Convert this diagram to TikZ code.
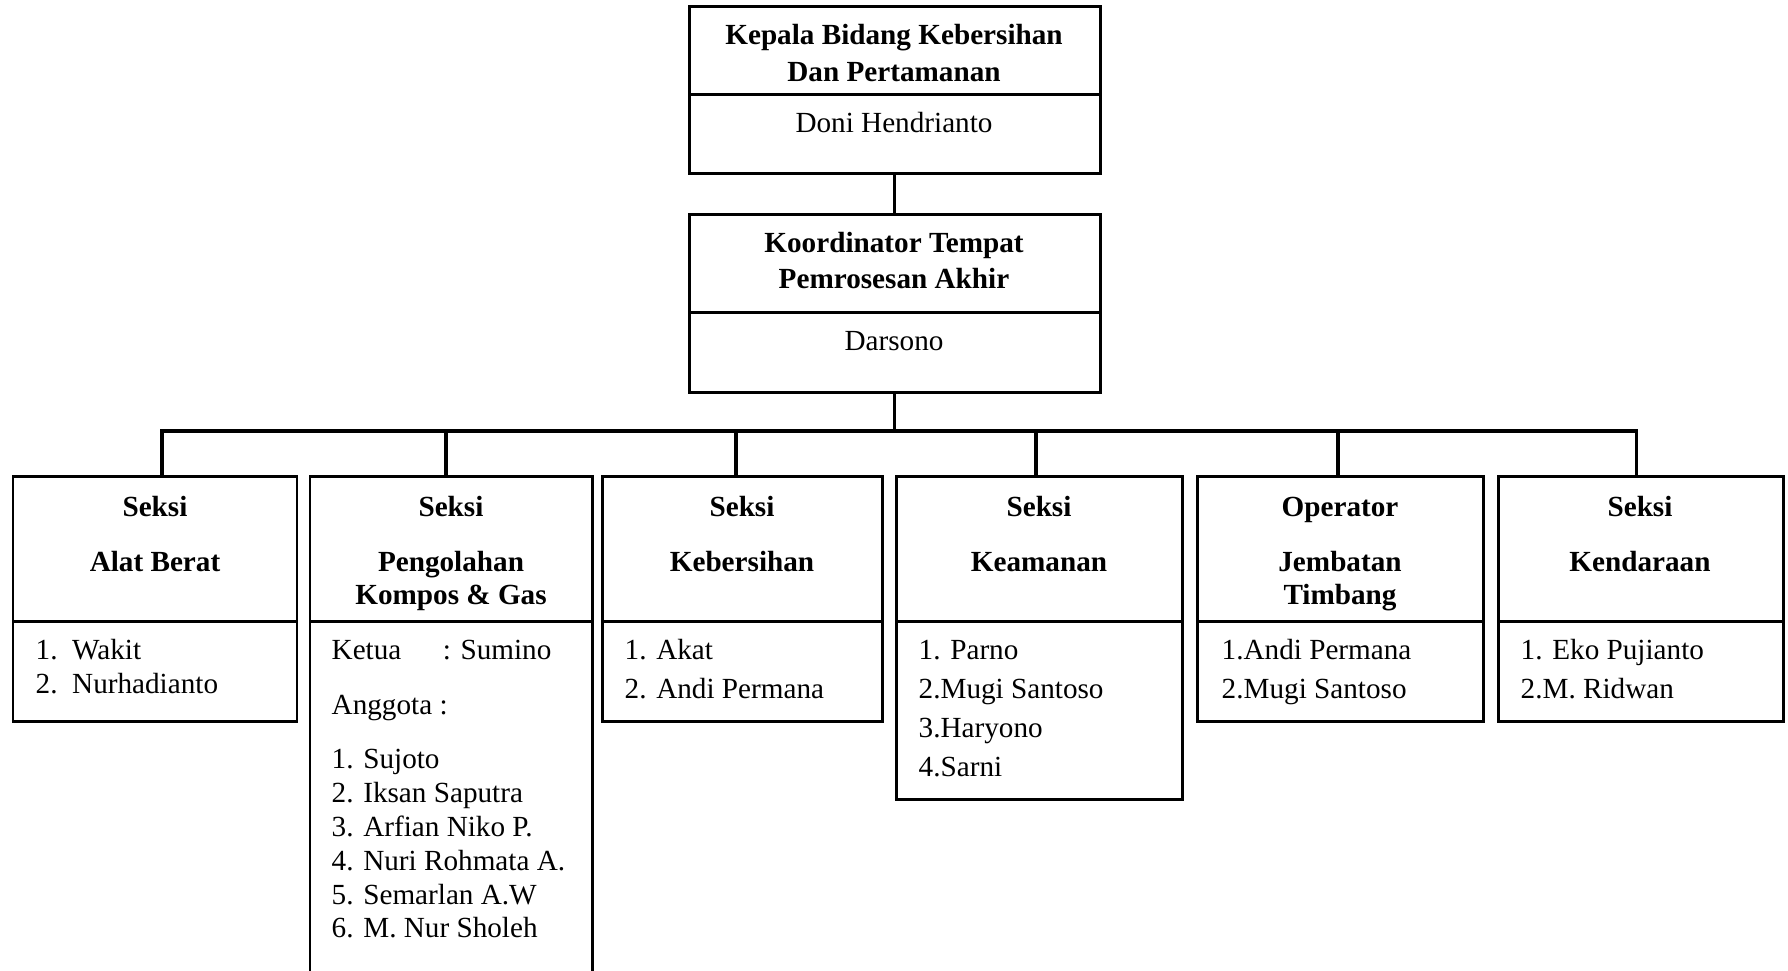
\documentclass[tikz,border=0pt]{standalone}
\usepackage{fontspec}
\setmainfont{Liberation Serif}
\usetikzlibrary{positioning,fit}

\tikzset{
  box/.style={draw, line width=0.85pt, inner sep=0pt},
  link/.style={line width=0.9pt},
  head/.style={anchor=base, inner sep=0pt, font=\fontsize{8.3}{10}\selectfont\bfseries},
  person/.style={anchor=base, inner sep=0pt, font=\fontsize{8.3}{10}\selectfont},
  item/.style={anchor=base west, inner sep=0pt, font=\fontsize{8.3}{10}\selectfont}
}

\begin{document}
\begin{tikzpicture}[x=0.01cm, y=-0.01cm]
        \clip (0,0) rectangle (1788,971);

        % Kepala bidang
        \node[box, fit={(689,7) (1100,174)}] (kepala) {};
        \draw[box] (689,95) -- (1100,95);
        \node[head] (kepala-t1) at (894,45) {Kepala Bidang Kebersihan};
        \node[head] (kepala-t2) at (894,82) {Dan Pertamanan};
        \node[person] (kepala-n) at (894,133) {Doni Hendrianto};

        % Koordinator TPA
        \node[box, fit={(689,215) (1100,393)}] (koord) {};
        \draw[box] (689,313) -- (1100,313);
        \node[head] (koord-t1) at (894,253) {Koordinator Tempat};
        \node[head] (koord-t2) at (894,289) {Pemrosesan Akhir};
        \node[person] (koord-n) at (894,351) {Darsono};

        % Seksi boxes
        \foreach \id/\xa/\xb/\yb in {alat/13/297/722, kompos/310/592/990, bersih/602/882/722,
                                     aman/896/1182/800, timbang/1197/1483/722, kendara/1498/1783/722} {
            \node[box, fit={(\xa,477) (\xb,\yb)}] (\id) {};
            \draw[box] (\xa,622) -- (\xb,622);
        }

        % Connectors
        \coordinate (bus) at (894,431);
        \draw[link] (kepala.south) -- (koord.north);
        \draw[link] (koord.south) -- (koord.south |- bus);
        \draw[link] ([xshift=0.07cm]alat.north) |- (bus) -| ([xshift=-0.04cm]kendara.north);
        \foreach \id/\dx in {kompos/-0.05, bersih/-0.06, aman/-0.03, timbang/-0.02}
            \draw[link] ([xshift=\dx cm]\id.north) -- ([xshift=\dx cm]\id.north |- bus);

        % Headers
        \node[head] (alat-t1) at (155,517) {Seksi};
        \node[head] (alat-t2) at (155,572) {Alat Berat};
        \node[head] (kompos-t1) at (451,517) {Seksi};
        \node[head] (kompos-t2) at (451,572) {Pengolahan};
        \node[head] (kompos-t3) at (451,605) {Kompos \& Gas};
        \node[head] (bersih-t1) at (742,517) {Seksi};
        \node[head] (bersih-t2) at (742,572) {Kebersihan};
        \node[head] (aman-t1) at (1039,517) {Seksi};
        \node[head] (aman-t2) at (1039,572) {Keamanan};
        \node[head] (timbang-t1) at (1340,517) {Operator};
        \node[head] (timbang-t2) at (1340,572) {Jembatan};
        \node[head] (timbang-t3) at (1340,605) {Timbang};
        \node[head] (kendara-t1) at (1640,517) {Seksi};
        \node[head] (kendara-t2) at (1640,572) {Kendaraan};

        % Members
        \foreach \t [count=\i] in {1.\enspace Wakit, 2.\enspace Nurhadianto}
            \node[item] (alat-\i) at (35,{660+34*(\i-1)}) {\t};

        \node[item] (kompos-k) at (331,660) {\makebox[1.11cm][l]{Ketua}: Sumino};
        \node[item] (kompos-a) at (331,715) {Anggota :};
        \foreach \t [count=\i] in {Sujoto, Iksan Saputra, Arfian Niko P., Nuri Rohmata A., Semarlan A.W, M. Nur Sholeh}
            \node[item] (kompos-\i) at (331,{769+33.8*(\i-1)}) {\i. \t};

        \foreach \t [count=\i] in {1. Akat, 2. Andi Permana}
            \node[item] (bersih-\i) at (624,{660+38.5*(\i-1)}) {\t};

        \foreach \t [count=\i] in {1. Parno, 2.Mugi Santoso, 3.Haryono, 4.Sarni}
            \node[item] (aman-\i) at (918,{660+38.7*(\i-1)}) {\t};

        \foreach \t [count=\i] in {1.Andi Permana, 2.Mugi Santoso}
            \node[item] (timbang-\i) at (1221,{660+38.5*(\i-1)}) {\t};

        \foreach \t [count=\i] in {1. Eko Pujianto, 2.M. Ridwan}
            \node[item] (kendara-\i) at (1520,{660+38.5*(\i-1)}) {\t};
\end{tikzpicture}
\end{document}
